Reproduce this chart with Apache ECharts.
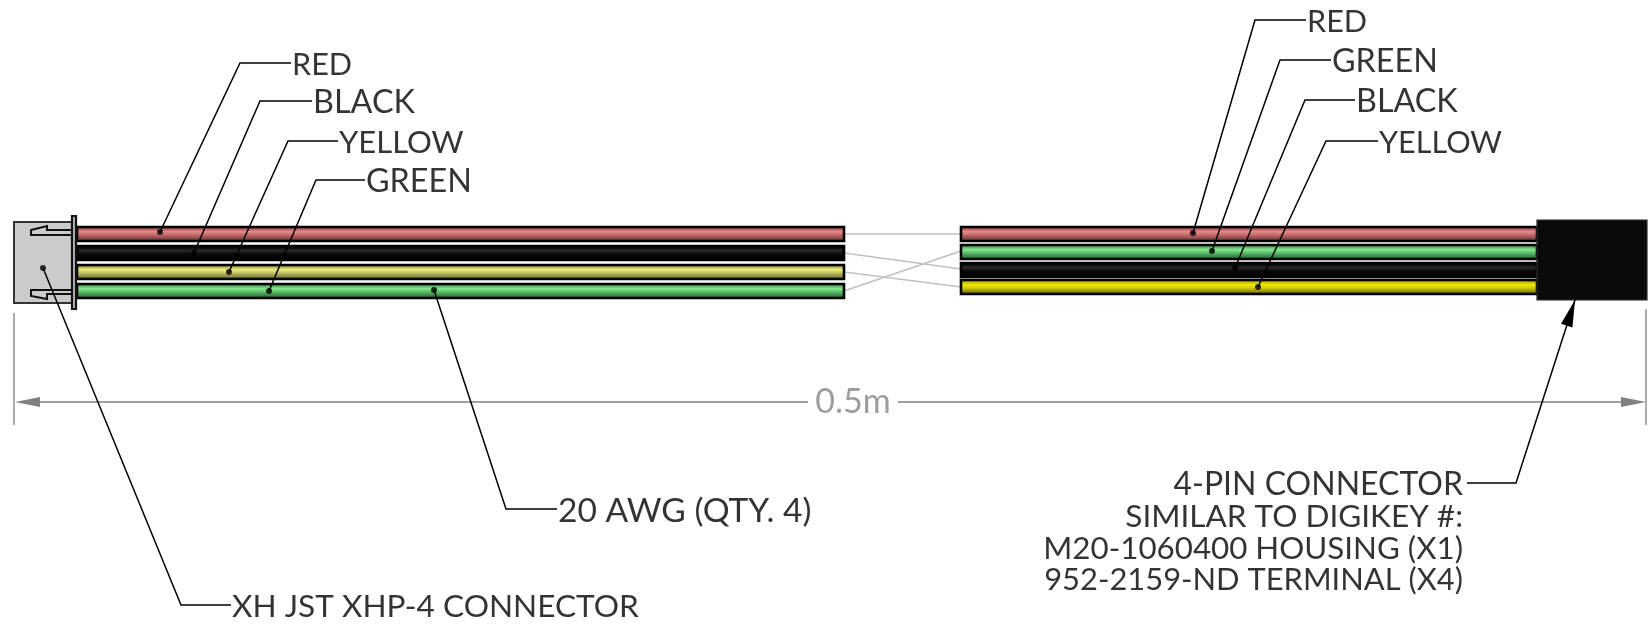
<!DOCTYPE html>
<html><head><meta charset="utf-8">
<style>html,body{margin:0;padding:0;background:#fff}#c{width:1648px;height:629px}</style>
<script src="https://cdn.jsdelivr.net/npm/echarts@6/dist/echarts.min.js"></script>
</head><body><div id="c"></div>
<script>
// Wire runs: [label, colour key, centre y]
const leftWireNames = ['RED','BLACK','YELLOW','GREEN'];
const leftWireY = [234,253,272,291];
const leftWireX = [77,844];
const rightWireNames = ['RED','GREEN','BLACK','YELLOW'];
const rightWireY = [234,252,270,287];
const rightWireX = [961,1537];
const crossFromY = [234,253,272,291];
const crossToY = [234,269,287,251];
const crossX = [844,961];
// Leader callouts
const leaderTexts = ['RED','BLACK','YELLOW','GREEN','20 AWG (QTY. 4)','XH JST XHP-4 CONNECTOR','RED','GREEN','BLACK','YELLOW'];
const leaderDots = [[160,232],[194,253],[229,272],[269,291],[434,290],[43,268],[1193,233],[1212,251],[1235,268],[1258,287]];
const leaderElbows = [[240,63],[260,101],[288,141],[316,180],[506,509],[181,605],[1255,20],[1280,60],[1305,100],[1326,141]];
const leaderEnds = [[291,63],[312,101],[338,141],[365,180],[557,509],[231,605],[1306,20],[1331,60],[1355,100],[1378,141]];
const leaderFontSizes = [30.6,32.4,31,32.3,33.6,31.6,30.6,32.3,32.3,30.6];
// Right connector note
const noteLines = ['4-PIN CONNECTOR','SIMILAR TO DIGIKEY #:','M20-1060400 HOUSING (X1)','952-2159-ND TERMINAL (X4)'];
const noteFontSizes = [32,31.5,31.3,30.9];
const noteY = [484,516,548,579];
const noteX = 1463;
const noteLeader = [[1575,300],[1516,483],[1467,483]];
// Dimension
const dimLabel = '0.5m';
const dimX = [14,1646];
const dimY = 402;
const dimGap = [808,898];
const dimExt = [[14,313,425],[1646,309,425]];
// Connector outlines
const bodyRect = [14,222,72,303];
const flangeRect = [72,216,76,309];
const latchTop = [[31,230],[47,226],[47,230],[72,230],[72,235],[31,235]];
const latchBottom = [[31,290],[72,290],[72,294],[47,294],[47,299],[31,296]];
const housingRect = [1537,220,1647,300];

const FONT = 'Lato';
const stops = {
  RED:['#5a2e2e','#a85656','#e88a8a','#c46a6a','#804444','#4a2626'],
  BLACK:['#030303','#0a0a0a','#2a2a2a','#0a0a0a','#030303','#030303'],
  YELLOW:['#55552a','#a8a850','#ecec80','#c4c464','#80803e','#444422'],
  GREEN:['#265a30','#50a860','#86e88a','#5cbc6c','#348040','#1e4a28'],
  YELLOWR:['#5a5600','#b8b000','#f0e800','#d4cc00','#888200','#403c00']
};
const grad = k => new echarts.graphic.LinearGradient(0,0,0,1,
  stops[k].map((c,i)=>({offset:[0,.18,.36,.55,.8,1][i],color:c})));

const wireRows = [
  ...leftWireNames.map((n,i)=>[leftWireX[0],leftWireX[1],leftWireY[i],n]),
  ...rightWireNames.map((n,i)=>[rightWireX[0],rightWireX[1],rightWireY[i],n==='YELLOW'?'YELLOWR':n])
];
const wireSeries = {
  type:'custom',coordinateSystem:'cartesian2d',z:2,silent:true,clip:false,
  data:wireRows.map((r,i)=>({value:[r[0],r[2]],idx:i})),
  encode:{x:0,y:1},
  renderItem:(p,api)=>{
    const r = wireRows[p.dataIndex];
    const a = api.coord([r[0],r[2]-7]), b = api.coord([r[1],r[2]+7]);
    return {type:'rect',shape:{x:a[0],y:a[1],width:b[0]-a[0],height:b[1]-a[1]},
      style:{fill:grad(r[3]),stroke:'#000',lineWidth:2.6}};
  }
};
const polys = [
  {pts:[[bodyRect[0],bodyRect[1]],[bodyRect[2],bodyRect[1]],[bodyRect[2],bodyRect[3]],[bodyRect[0],bodyRect[3]]],fill:'#cbcbcb',stroke:'#333',w:2},
  {pts:latchTop,fill:'#cbcbcb',stroke:'#111',w:2},
  {pts:latchBottom,fill:'#cbcbcb',stroke:'#111',w:2},
  {pts:[[flangeRect[0],flangeRect[1]],[flangeRect[2],flangeRect[1]],[flangeRect[2],flangeRect[3]],[flangeRect[0],flangeRect[3]]],fill:'#bdbdbd',stroke:'#111',w:2.2},
  {pts:[[housingRect[0],housingRect[1]],[housingRect[2],housingRect[1]],[housingRect[2],housingRect[3]],[housingRect[0],housingRect[3]]],fill:'#0a0a0a',stroke:'#2a2a2a',w:1.2}
];
const polySeries = {
  type:'custom',coordinateSystem:'cartesian2d',z:3,silent:true,clip:false,
  data:polys.map(p=>p.pts[0]),encode:{x:0,y:1},
  renderItem:(p,api)=>{
    const q = polys[p.dataIndex];
    return {type:'polygon',shape:{points:q.pts.map(t=>api.coord(t))},style:{fill:q.fill,stroke:q.stroke,lineWidth:q.w}};
  }
};
const heads = [
  {tip:[dimX[0]+1,dimY],from:[40,dimY],len:25,hw:5,fill:'#808080'},
  {tip:[dimX[1],dimY],from:[1621,dimY],len:25,hw:5,fill:'#808080'},
  {tip:noteLeader[0],from:noteLeader[1],len:27,hw:6,fill:'#000'}
];
const headSeries = {
  type:'custom',coordinateSystem:'cartesian2d',z:6,silent:true,clip:false,
  data:heads.map(h=>h.tip),encode:{x:0,y:1},
  renderItem:(p,api)=>{
    const h = heads[p.dataIndex];
    const dx=h.from[0]-h.tip[0],dy=h.from[1]-h.tip[1],d=Math.hypot(dx,dy),ux=dx/d,uy=dy/d;
    const bx=h.tip[0]+ux*h.len,by=h.tip[1]+uy*h.len;
    const pts=[h.tip,[bx-uy*h.hw,by+ux*h.hw],[bx+uy*h.hw,by-ux*h.hw]];
    return {type:'polygon',shape:{points:pts.map(t=>api.coord(t))},style:{fill:h.fill}};
  }
};
const line = (data,color,width,z)=>({type:'line',data,symbol:'none',silent:true,z,clip:false,animation:false,
  lineStyle:{color,width,cap:'butt',join:'miter'}});
const series = [wireSeries,polySeries,headSeries];
crossFromY.forEach((y,i)=>series.push(line([[crossX[0],y],[crossX[1],crossToY[i]]],'#c0c0c0',1.6,1)));
leaderDots.forEach((d,i)=>series.push(line([d,leaderElbows[i],leaderEnds[i]],'#000',1.5,5)));
series.push(line(noteLeader,'#000',1.5,5));
series.push(line([[dimX[0]+25,dimY],[dimGap[0],dimY]],'#808080',1.5,4));
series.push(line([[dimGap[1],dimY],[dimX[1]-25,dimY]],'#808080',1.5,4));
dimExt.forEach(e=>series.push(line([[e[0],e[1]],[e[0],e[2]]],'#999',1.6,4)));
series.push({type:'scatter',data:leaderDots,symbol:'circle',symbolSize:6,itemStyle:{color:'#000'},z:6,silent:true,clip:false});
const lab = {fontFamily:FONT,color:'#000',fontWeight:400};
series.push({type:'scatter',symbolSize:0,silent:true,z:7,clip:false,
  data:leaderEnds.map((e,i)=>({value:e,label:{show:true,position:'right',distance:1,offset:[0,2],fontSize:leaderFontSizes[i],formatter:leaderTexts[i],...lab}}))});
series.push({type:'scatter',symbolSize:0,silent:true,z:7,clip:false,
  data:noteLines.map((t,i)=>({value:[noteX,noteY[i]],label:{show:true,position:'left',distance:0,offset:[0,1],fontSize:noteFontSizes[i],formatter:t,...lab}}))});
series.push({type:'scatter',symbolSize:0,silent:true,z:7,clip:false,
  data:[{value:[(dimGap[0]+dimGap[1])/2,dimY],label:{show:true,position:'inside',formatter:dimLabel,fontFamily:FONT,fontSize:34,color:'#858585'}}]});

const chart = echarts.init(document.getElementById('c'),null,{renderer:'canvas'});
chart.setOption({
  animation:false,backgroundColor:'#fff',
  grid:{left:0,right:0,top:0,bottom:0},
  xAxis:{type:'value',min:0,max:1648,show:false},
  yAxis:{type:'value',min:0,max:629,inverse:true,show:false},
  tooltip:{show:false},legend:{show:false},
  series
});
</script></body></html>
